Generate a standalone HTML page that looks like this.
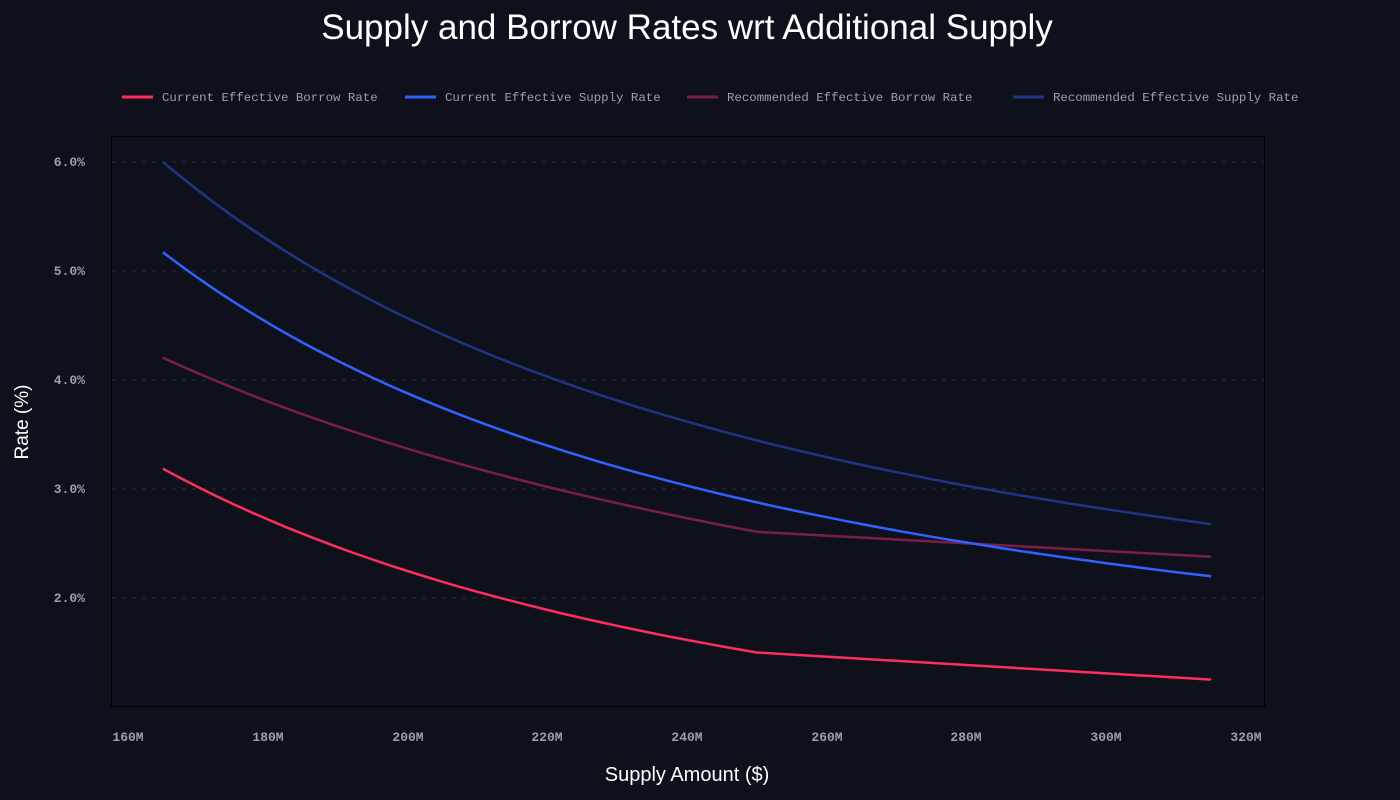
<!DOCTYPE html>
<html><head><style>
html,body{margin:0;padding:0;background:#0e111c;}
svg{display:block}
</style></head><body>
<svg id="s" width="1400" height="800" xmlns="http://www.w3.org/2000/svg">
<rect width="1400" height="800" fill="#0e111c"/>
<text x="687" y="39" fill="#ffffff" font-family="Liberation Sans, sans-serif" font-size="35" text-anchor="middle">Supply and Borrow Rates wrt Additional Supply</text>
<g font-family="Liberation Mono, monospace" font-size="12.4" fill="#9aa0b0">
<line x1="122" y1="97" x2="153" y2="97" stroke="#ff2d5e" stroke-width="3"/><text x="162" y="101">Current Effective Borrow Rate</text>
<line x1="405" y1="97" x2="436" y2="97" stroke="#2f62ff" stroke-width="3"/><text x="445" y="101">Current Effective Supply Rate</text>
<line x1="687" y1="97" x2="718" y2="97" stroke="#7a1f42" stroke-width="3"/><text x="727" y="101">Recommended Effective Borrow Rate</text>
<line x1="1013" y1="97" x2="1044" y2="97" stroke="#1f3584" stroke-width="3"/><text x="1053" y="101">Recommended Effective Supply Rate</text>
</g>
<rect x="111.5" y="136.5" width="1153" height="570" fill="#0e111c" stroke="#000" stroke-width="1"/>
<g stroke="#2a2f3c" stroke-dasharray="4,6" stroke-width="1">
<line x1="112" x2="1264" y1="162" y2="162"/><line x1="112" x2="1264" y1="271" y2="271"/><line x1="112" x2="1264" y1="380" y2="380"/><line x1="112" x2="1264" y1="489" y2="489"/><line x1="112" x2="1264" y1="598" y2="598"/>
</g>
<g font-family="Liberation Mono, monospace" font-size="13" fill="#9aa0b0" text-anchor="end" font-weight="bold">
<text x="85" y="166">6.0%</text><text x="85" y="275">5.0%</text><text x="85" y="384">4.0%</text><text x="85" y="493">3.0%</text><text x="85" y="602">2.0%</text>
</g>
<g font-family="Liberation Mono, monospace" font-size="13" fill="#9aa0b0" text-anchor="middle" font-weight="bold">
<text x="128" y="741">160M</text><text x="268" y="741">180M</text><text x="408" y="741">200M</text><text x="547" y="741">220M</text><text x="687" y="741">240M</text><text x="827" y="741">260M</text><text x="966" y="741">280M</text><text x="1106" y="741">300M</text><text x="1246" y="741">320M</text>
</g>
<text x="687" y="781" fill="#fff" font-family="Liberation Sans, sans-serif" font-size="20" text-anchor="middle">Supply Amount ($)</text>
<text transform="translate(28,422) rotate(-90)" fill="#fff" font-family="Liberation Sans, sans-serif" font-size="19" text-anchor="middle">Rate (%)</text>
<g id="lines" fill="none" stroke-width="2.5"></g>
</svg>
<script>
function X(m){return 128+(m-160)/20*139.75;}
function Y(r){return 597-(r-2)*108.75;}
function add(d,col){
  var p=document.createElementNS("http://www.w3.org/2000/svg","path");
  p.setAttribute("d",d);p.setAttribute("stroke",col);p.setAttribute("stroke-width",2.5);
  document.getElementById("lines").appendChild(p);
}
function kinked(a,b,c,col){
  var k=Math.log(a/b)/Math.log(250/165),d="";
  for(var m=165;m<=250;m+=2.5){var r=a*Math.pow(m/165,-k);d+=(d?"L":"M")+X(m).toFixed(1)+","+Y(r).toFixed(1);}
  d+="L"+X(315).toFixed(1)+","+Y(c).toFixed(1);
  add(d,col);
}
function smooth(a,b,c,col){
  // quadratic in log-log through three points
  var xs=[Math.log(165),Math.log(250),Math.log(315)],ys=[Math.log(a),Math.log(b),Math.log(c)],d="";
  function L(x){var s=0;for(var i=0;i<3;i++){var t=ys[i];for(var j=0;j<3;j++)if(j!=i)t*=(x-xs[j])/(xs[i]-xs[j]);s+=t;}return s;}
  for(var m=165;m<=315.01;m+=2.5){var r=Math.exp(L(Math.log(m)));d+=(d?"L":"M")+X(m).toFixed(1)+","+Y(r).toFixed(1);}
  add(d,col);
}
kinked(4.2,2.60,2.37,"#7a1f42");
smooth(6.0,3.44,2.67,"#1f3584");
kinked(3.18,1.49,1.24,"#ff2d5e");
smooth(5.17,2.87,2.19,"#2f62ff");
</script>
</body></html>
